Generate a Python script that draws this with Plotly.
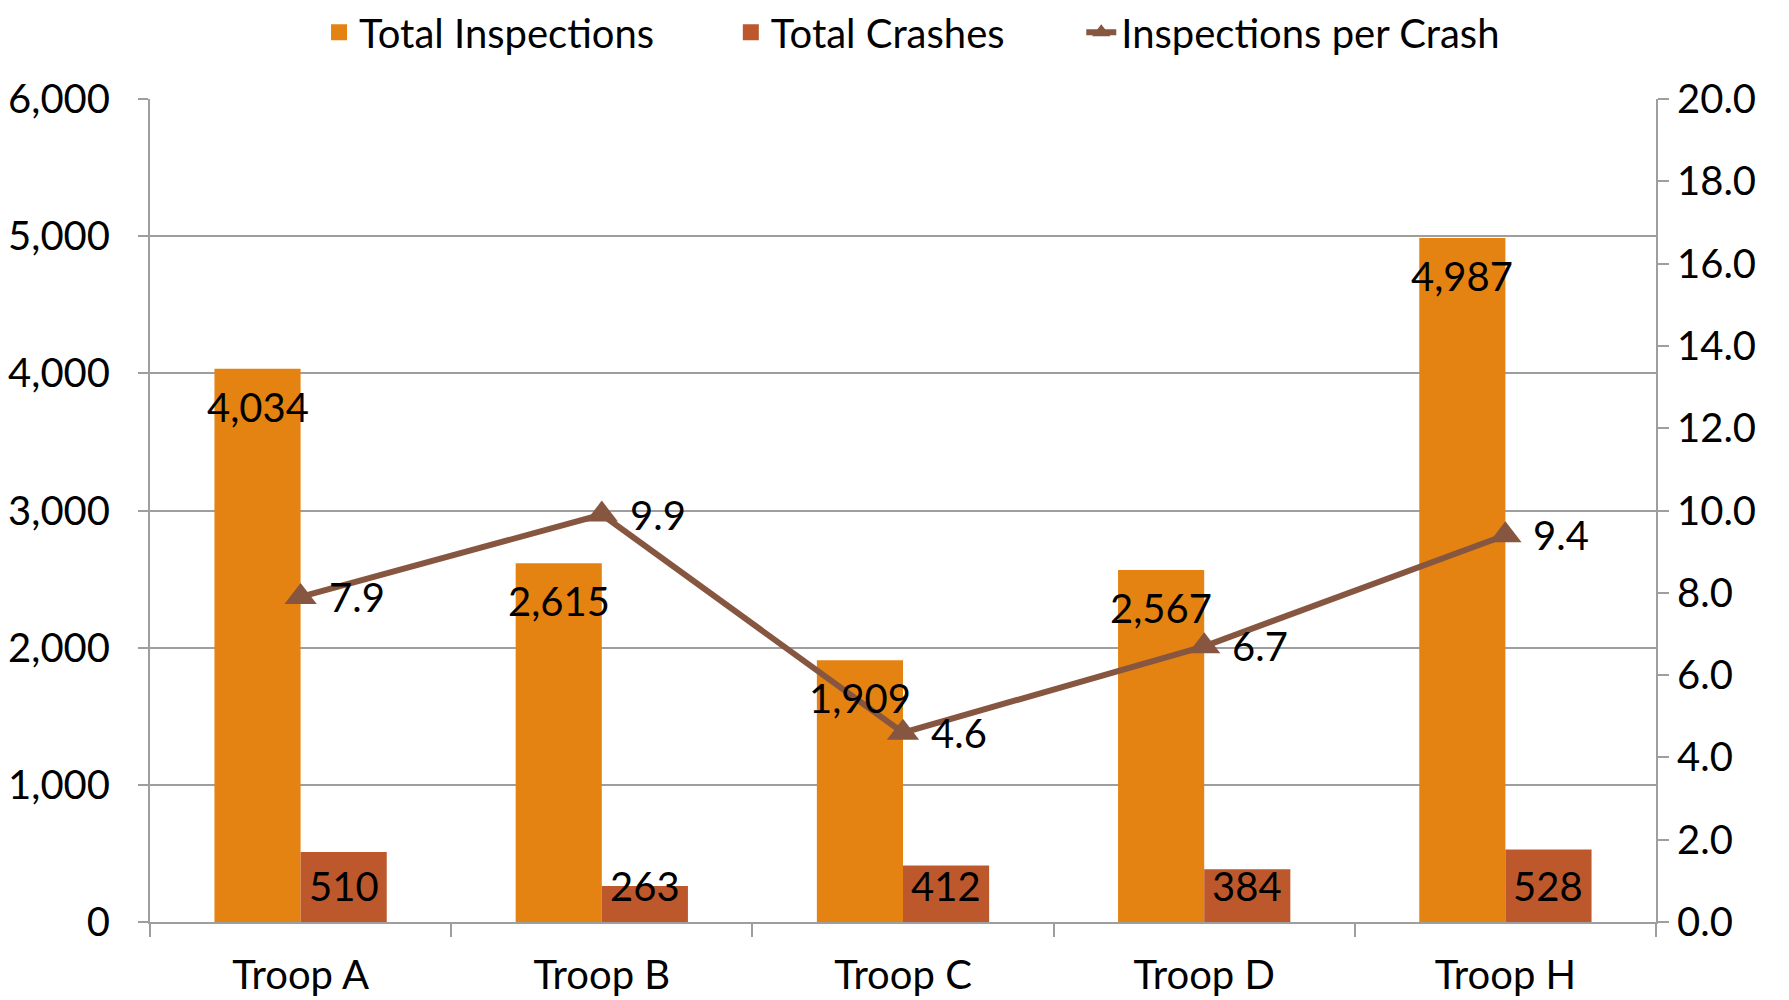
import plotly.graph_objects as go

categories = ["Troop A", "Troop B", "Troop C", "Troop D", "Troop H"]
total_inspections = [4034, 2615, 1909, 2567, 4987]
total_crashes = [510, 263, 412, 384, 528]
insp_per_crash = [7.9, 9.9, 4.6, 6.7, 9.4]

left_ticks = [0, 1000, 2000, 3000, 4000, 5000, 6000]
right_ticks = [0, 2, 4, 6, 8, 10, 12, 14, 16, 18, 20]

C_INSP = "#E48312"
C_CRASH = "#BD582C"
C_LINE = "#865640"
GRID = "#9E9E9E"
FONT = "Lato"
FS = 40
PAD = "\u00a0" * 7

BARGAP = 0.428
half = (1 - BARGAP) / 4

fig = go.Figure()
fig.add_trace(go.Bar(x=categories, y=total_inspections, name="Total Inspections",
                     showlegend=False, marker=dict(color=C_INSP, line=dict(width=0))))
fig.add_trace(go.Bar(x=categories, y=total_crashes, name="Total Crashes",
                     showlegend=False, marker=dict(color=C_CRASH, line=dict(width=0))))
# legend swatches for the bar series
fig.add_trace(go.Scatter(x=[None], y=[None], mode="markers", name="Total Inspections" + PAD,
                         marker=dict(symbol="square", size=28, color=C_INSP)))
fig.add_trace(go.Scatter(x=[None], y=[None], mode="markers", name="Total Crashes" + PAD,
                         marker=dict(symbol="square", size=28, color=C_CRASH)))
fig.add_trace(go.Scatter(x=categories, y=insp_per_crash, name="Inspections per Crash",
                         yaxis="y2", mode="lines+markers",
                         line=dict(color=C_LINE, width=6),
                         marker=dict(symbol="triangle-up", size=28, color=C_LINE)))

annotations = []
for i, v in enumerate(total_inspections):
    annotations.append(dict(x=i - half, y=v, xref="x", yref="y", text=f"{v:,}",
                            showarrow=False, yanchor="top", yshift=-12,
                            font=dict(family=FONT, size=FS, color="black")))
for i, v in enumerate(total_crashes):
    annotations.append(dict(x=i + half, y=0, xref="x", yref="y", text=f"{v:,}",
                            showarrow=False, yanchor="bottom", yshift=10,
                            font=dict(family=FONT, size=FS, color="black")))
for i, v in enumerate(insp_per_crash):
    annotations.append(dict(x=i, y=v, xref="x", yref="y2", text=f"{v:.1f}",
                            showarrow=False, xanchor="left", yanchor="middle", xshift=26,
                            font=dict(family=FONT, size=FS, color="black")))

fig.update_layout(
    width=1781, height=992,
    margin=dict(l=142, r=133, t=91, b=78, autoexpand=False),
    paper_bgcolor="white", plot_bgcolor="white",
    barmode="group", bargap=BARGAP, bargroupgap=0,
    font=dict(family=FONT, size=FS, color="black"),
    showlegend=True,
    legend=dict(orientation="h", x=0.506, xanchor="center", y=1.081, yanchor="middle",
                font=dict(family=FONT, size=FS, color="black"),
                itemwidth=30, bgcolor="rgba(0,0,0,0)", traceorder="normal"),
    annotations=annotations,
    xaxis=dict(type="category", tickson="boundaries", ticks="outside", ticklen=13,
               tickcolor=GRID, tickwidth=2, showline=True, linecolor=GRID, linewidth=2,
               showgrid=False, ticklabelstandoff=17, automargin=False,
               tickfont=dict(family=FONT, size=FS, color="black")),
    yaxis=dict(range=[0, 6000], tickvals=left_ticks, tickformat=",d",
               showgrid=True, gridcolor=GRID, gridwidth=2,
               showline=True, linecolor=GRID, linewidth=2,
               ticks="outside", ticklen=10, tickcolor=GRID, tickwidth=2,
               ticklabelstandoff=20, zeroline=False, automargin=False,
               tickfont=dict(family=FONT, size=FS, color="black")),
    yaxis2=dict(range=[0, 20], tickvals=right_ticks, tickformat=".1f",
                overlaying="y", side="right", showgrid=False,
                showline=True, linecolor=GRID, linewidth=2,
                ticks="outside", ticklen=11, tickcolor=GRID, tickwidth=2,
                ticklabelstandoff=0, zeroline=False, automargin=False,
                tickfont=dict(family=FONT, size=FS, color="black")),
)

fig.write_html("out.html")
